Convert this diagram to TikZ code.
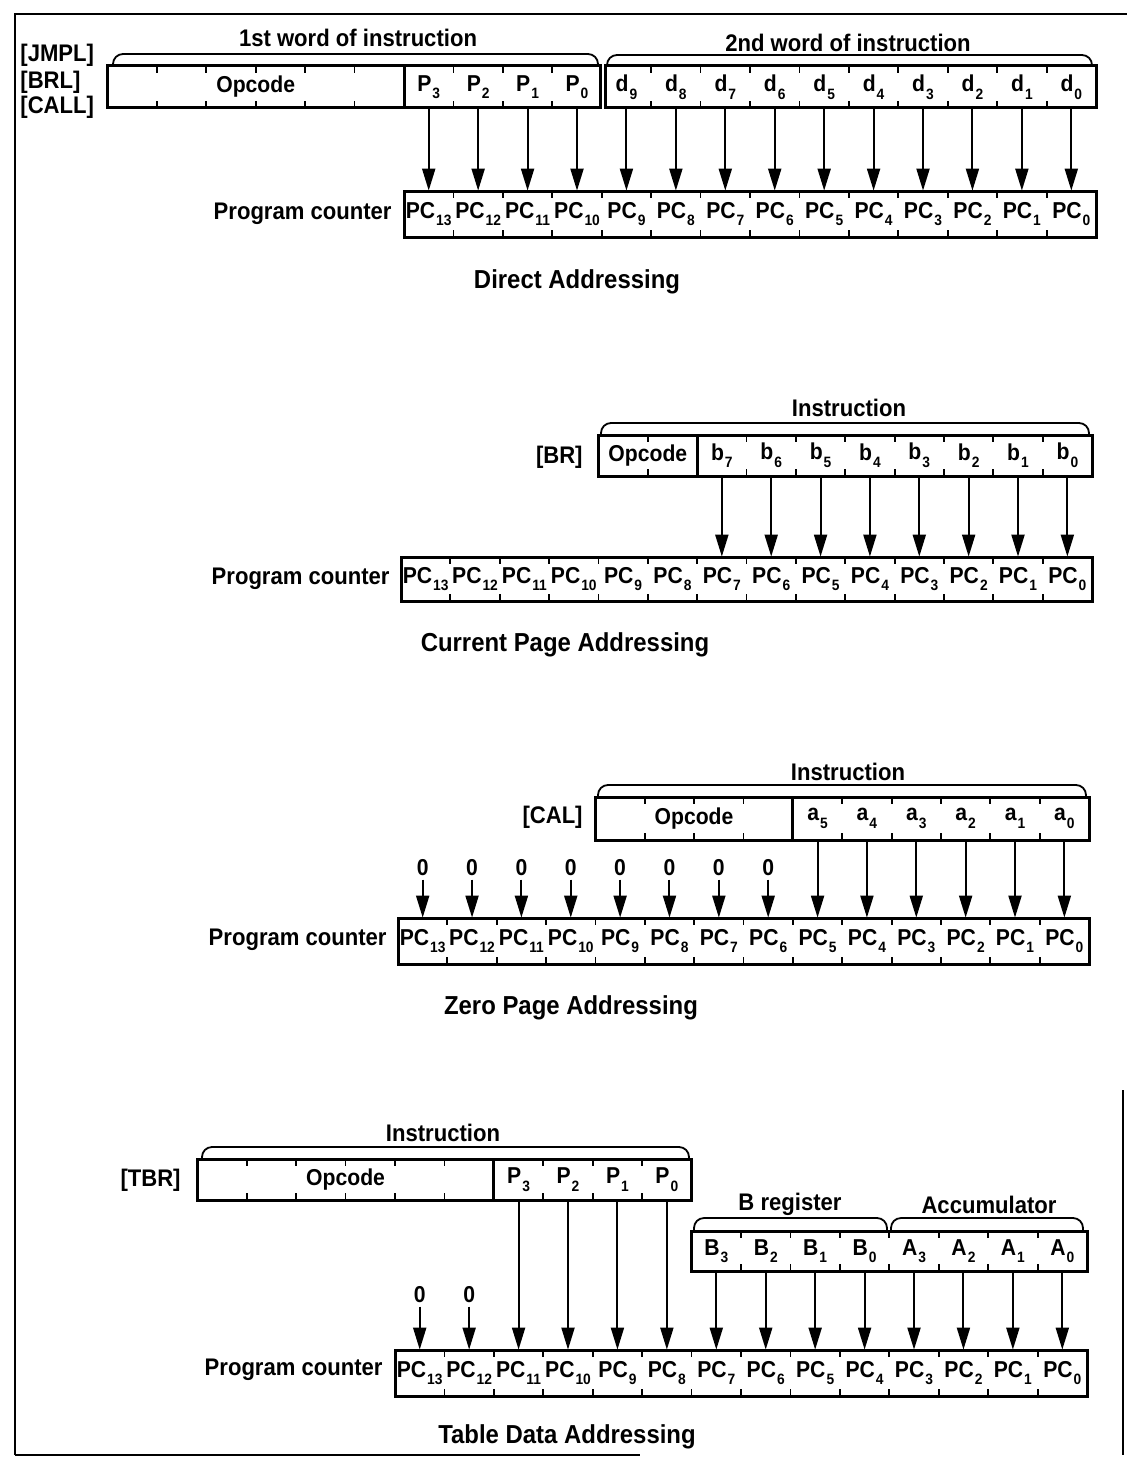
\documentclass[tikz,border=0pt]{standalone}
\usepackage{fontspec}
\setmainfont{Liberation Sans}[FakeStretch=0.92]
\usetikzlibrary{arrows.meta}
\newcommand\cellf{\fontsize{11.5}{12}\selectfont\bfseries}
\newcommand\labf{\fontsize{12}{13}\selectfont\bfseries}
\newcommand\titf{\fontsize{13}{14}\selectfont\bfseries}
\newcommand\sbs[1]{\kern0.5pt\raisebox{-0.62ex}{\fontsize{7.5}{8}\selectfont\bfseries #1}}
\newcommand\regticks[5]{\foreach \j in {#5}{\draw[tickln] ({#1+\j*#2},#3) -- ++(0,7) ({#1+\j*#2},#4) -- ++(0,-7);}}
\begin{document}
\begin{tikzpicture}[x=0.5pt,y=-0.5pt,
  cellt/.style 2 args={minimum width={0.5pt*#1}, minimum height={0.5pt*#2}, inner sep=0pt, font=\cellf},
  regbox/.style={line width=1.5pt},
  tickln/.style={line width=0.9pt},
  arr/.style={line width=1pt, -{Triangle[length=11pt,width=6.5pt]}},
  brc/.style={line width=0.9pt, rounded corners=5pt},
  lab/.style={font=\labf, inner sep=0pt},
  ttl/.style={font=\titf, inner sep=0pt},
  zero/.style={font=\cellf, inner sep=1.5pt},
  frame/.style={line width=1.2pt}]
\useasboundingbox (0,0) rectangle (1127,1461);
\fill[white] (0,0) rectangle (1127,1461);
% frame
\draw[frame] (15,1455) -- (15,14) -- (1127,14);
\draw[frame] (15,1455) -- (640,1455);
\draw[frame] (1123,1090) -- (1123,1455);

% ===== Section 1: Direct Addressing =====
\def\w{49.43}
\node[lab,anchor=west] (s1jmpl) at (20,55) {[JMPL]};
\node[lab,anchor=west] (s1brl) at (20,82) {[BRL]};
\node[lab,anchor=west] (s1call) at (20,107) {[CALL]};
\node[lab] (s1w1) at (358,38) {1st word of instruction};
\node[lab] (s1w2) at (848,43) {2nd word of instruction};
\draw[brc] (113,66) -- (113,54) -- (598,54) -- (598,66);
\draw[brc] (607,66) -- (607,55) -- (1092,55) -- (1092,66);
\draw[regbox] (107.4,66) rectangle (600.5,108);
\draw[regbox] (404,66) -- (404,108);
\regticks{107.4}{\w}{66}{108}{1,2,3,4,5}
\regticks{404}{\w}{66}{108}{1,2,3}
\draw[regbox] (605,66) rectangle (1096,108);
\regticks{404}{\w}{66}{108}{5,6,7,8,9,10,11,12,13}
\node[cellt={100}{42}] (s1op) at (255.7,87) {Opcode};
\foreach \k in {0,...,3}{\pgfmathtruncatemacro\b{13-\k}\pgfmathtruncatemacro\s{3-\k}
  \node[cellt={\w}{42}] (s1t\b) at ({404+(\k+0.5)*\w},87) {P\sbs{\s}};}
\foreach \k in {4,...,13}{\pgfmathtruncatemacro\b{13-\k}
  \node[cellt={\w}{42}] (s1t\b) at ({404+(\k+0.5)*\w},87) {d\sbs{\b}};}
\draw[regbox] (404,191) rectangle (1096,237);
\regticks{404}{\w}{191}{237}{1,2,3,4,5,6,7,8,9,10,11,12,13}
\foreach \k in {0,...,13}{\pgfmathtruncatemacro\b{13-\k}
  \node[cellt={\w}{46}] (s1pc\b) at ({404+(\k+0.5)*\w},214) {PC\sbs{\b}};}
\foreach \b in {0,...,13}{\draw[arr] (s1t\b.south) -- (s1pc\b.north);}
\node[lab,anchor=east] (s1pcl) at (392,214) {Program counter};
\node[ttl] (s1title) at (577,282) {Direct Addressing};

% ===== Section 2: Current Page Addressing =====
\def\w{49.36}
\node[lab] (s2ins) at (849,408) {Instruction};
\draw[brc] (601,435) -- (601,423) -- (1089,423) -- (1089,435);
\node[lab,anchor=east] (s2br) at (583,457) {[BR]};
\draw[regbox] (598.4,435) rectangle (1092,476);
\draw[regbox] (697.2,435) -- (697.2,476);
\regticks{401}{\w}{435}{476}{5,7,8,9,10,11,12,13}
\node[cellt={98}{41}] (s2op) at (647.8,455.5) {Opcode};
\foreach \k in {6,...,13}{\pgfmathtruncatemacro\b{13-\k}
  \node[cellt={\w}{41}] (s2t\b) at ({401+(\k+0.5)*\w},455.5) {b\sbs{\b}};}
\draw[regbox] (401,557) rectangle (1092,601);
\regticks{401}{\w}{557}{601}{1,2,3,4,5,6,7,8,9,10,11,12,13}
\foreach \k in {0,...,13}{\pgfmathtruncatemacro\b{13-\k}
  \node[cellt={\w}{44}] (s2pc\b) at ({401+(\k+0.5)*\w},579) {PC\sbs{\b}};}
\foreach \b in {0,...,7}{\draw[arr] (s2t\b.south) -- (s2pc\b.north);}
\node[lab,anchor=east] (s2pcl) at (390,579) {Program counter};
\node[ttl] (s2title) at (565,645) {Current Page Addressing};

% ===== Section 3: Zero Page Addressing =====
\node[lab] (s3ins) at (848,772) {Instruction};
\draw[brc] (598,797) -- (598,785) -- (1086,785) -- (1086,797);
\node[lab,anchor=east] (s3cal) at (583,817) {[CAL]};
\draw[regbox] (595.4,797) rectangle (1089,840);
\draw[regbox] (792.9,797) -- (792.9,840);
\regticks{398}{\w}{797}{840}{5,6,7,9,10,11,12,13}
\node[cellt={190}{43}] (s3op) at (694,818.5) {Opcode};
\foreach \k in {8,...,13}{\pgfmathtruncatemacro\b{13-\k}
  \node[cellt={\w}{43}] (s3t\b) at ({398+(\k+0.5)*\w},818.5) {a\sbs{\b}};}
\foreach \k in {0,...,7}{\pgfmathtruncatemacro\b{13-\k}
  \node[zero] (s3z\b) at ({398+(\k+0.5)*\w},868) {0};}
\draw[regbox] (398,918) rectangle (1089,964);
\regticks{398}{\w}{918}{964}{1,2,3,4,5,6,7,8,9,10,11,12,13}
\foreach \k in {0,...,13}{\pgfmathtruncatemacro\b{13-\k}
  \node[cellt={\w}{46}] (s3pc\b) at ({398+(\k+0.5)*\w},941) {PC\sbs{\b}};}
\foreach \b in {0,...,5}{\draw[arr] (s3t\b.south) -- (s3pc\b.north);}
\foreach \b in {6,...,13}{\draw[arr] (s3z\b.south) -- (s3pc\b.north);}
\node[lab,anchor=east] (s3pcl) at (387,940) {Program counter};
\node[ttl] (s3title) at (571,1008) {Zero Page Addressing};

% ===== Section 4: Table Data Addressing =====
\def\w{49.43}
\node[lab] (s4ins) at (443,1133) {Instruction};
\draw[brc] (202,1159) -- (202,1147) -- (689,1147) -- (689,1159);
\node[lab,anchor=east] (s4tbr) at (181,1180) {[TBR]};
\draw[regbox] (197.3,1159) rectangle (691.6,1200);
\draw[regbox] (493.9,1159) -- (493.9,1200);
\regticks{197.3}{\w}{1159}{1200}{1,2,3,4,5}
\regticks{395}{\w}{1159}{1200}{3,4,5}
\node[cellt={290}{41}] (s4op) at (345.6,1179.5) {Opcode};
\foreach \k in {2,...,5}{\pgfmathtruncatemacro\b{13-\k}\pgfmathtruncatemacro\s{5-\k}
  \node[cellt={\w}{41}] (s4t\b) at ({395+(\k+0.5)*\w},1179.5) {P\sbs{\s}};}
\node[lab] (s4breg) at (790,1204) {B register};
\node[lab] (s4acc) at (989,1205) {Accumulator};
\draw[brc] (694,1231) -- (694,1218) -- (887,1218) -- (887,1231);
\draw[brc] (891,1231) -- (891,1218) -- (1083,1218) -- (1083,1231);
\draw[regbox] (691.6,1231) rectangle (1087,1271);
\regticks{395}{\w}{1231}{1271}{7,8,9,10,11,12,13}
\foreach \k in {6,...,9}{\pgfmathtruncatemacro\b{13-\k}\pgfmathtruncatemacro\s{9-\k}
  \node[cellt={\w}{40}] (s4t\b) at ({395+(\k+0.5)*\w},1251) {B\sbs{\s}};}
\foreach \k in {10,...,13}{\pgfmathtruncatemacro\b{13-\k}
  \node[cellt={\w}{40}] (s4t\b) at ({395+(\k+0.5)*\w},1251) {A\sbs{\b}};}
\foreach \k in {0,1}{\pgfmathtruncatemacro\b{13-\k}
  \node[zero] (s4z\b) at ({395+(\k+0.5)*\w},1295) {0};}
\draw[regbox] (395,1350) rectangle (1087,1396);
\regticks{395}{\w}{1350}{1396}{1,2,3,4,5,6,7,8,9,10,11,12,13}
\foreach \k in {0,...,13}{\pgfmathtruncatemacro\b{13-\k}
  \node[cellt={\w}{46}] (s4pc\b) at ({395+(\k+0.5)*\w},1373) {PC\sbs{\b}};}
\foreach \b in {0,...,11}{\draw[arr] (s4t\b.south) -- (s4pc\b.north);}
\foreach \b in {12,13}{\draw[arr] (s4z\b.south) -- (s4pc\b.north);}
\node[lab,anchor=east] (s4pcl) at (383,1370) {Program counter};
\node[ttl] (s4title) at (567,1437) {Table Data Addressing};
\end{tikzpicture}
\end{document}
